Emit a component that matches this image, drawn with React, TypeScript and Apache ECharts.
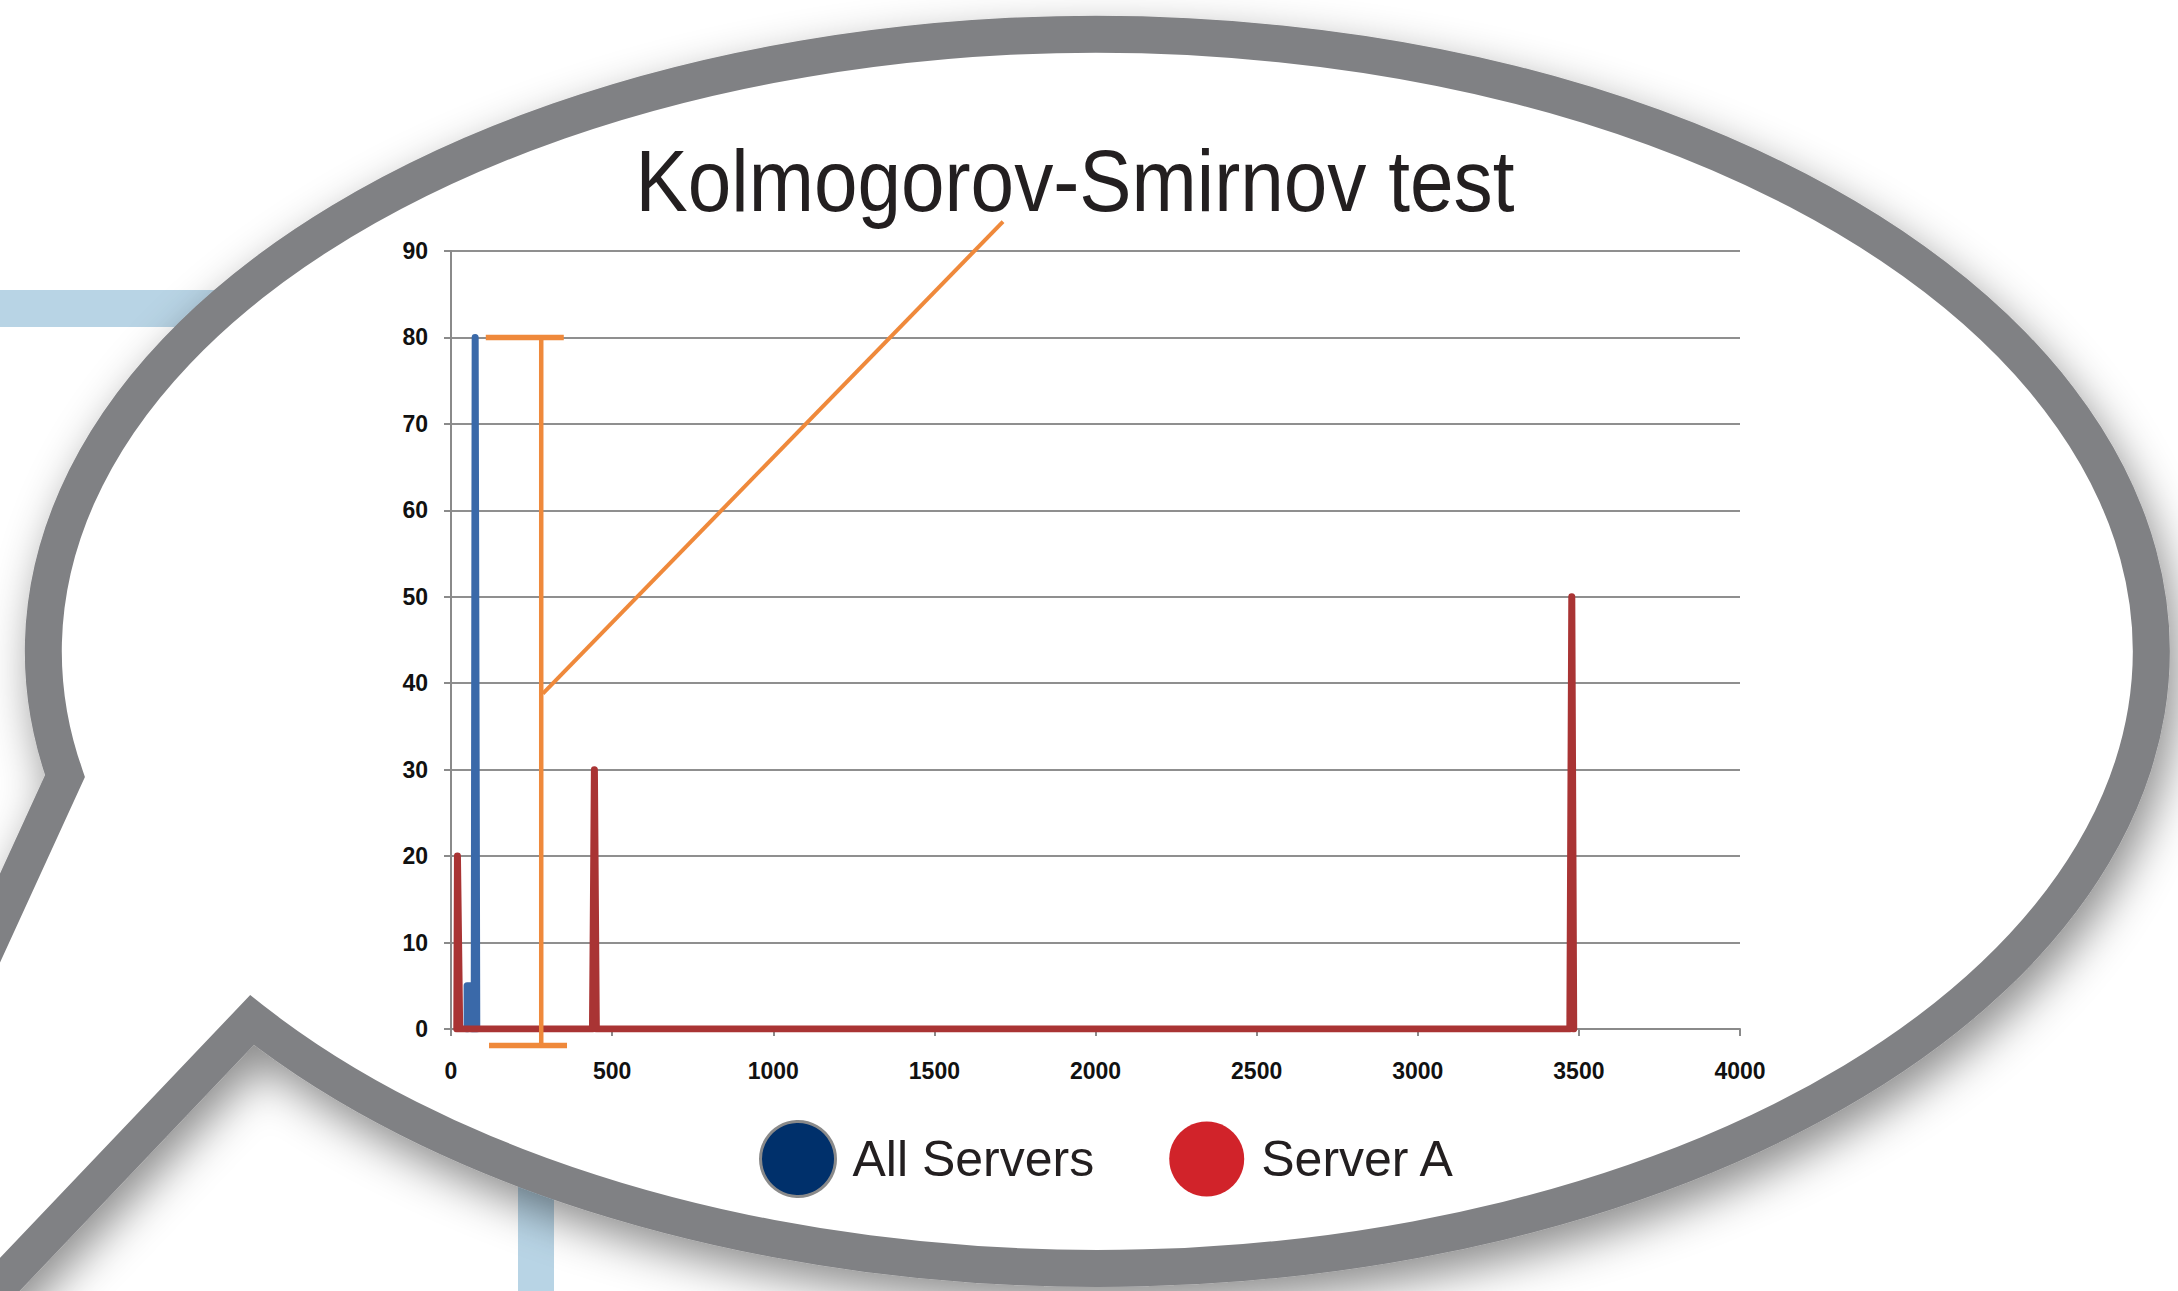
import React, { useEffect, useRef } from "react";
import * as echarts from "echarts";

// ---- data ----
const TITLE = "Kolmogorov-Smirnov test";
const SERIES_NAMES = ["All Servers", "Server A"];

const X_MIN = 0;
const X_MAX = 4000;
const X_INTERVAL = 500;
const Y_MIN = 0;
const Y_MAX = 90;
const Y_INTERVAL = 10;

// All Servers (blue) polyline
const allServersX = [50, 50, 66, 66, 72, 75, 80];
const allServersY = [0, 5, 5, 0, 0, 80, 0];

// Server A (red) polyline
const serverAX = [18, 20, 27, 439, 445, 451, 3472, 3478, 3484];
const serverAY = [0, 20, 0, 0, 30, 0, 0, 50, 0];

// K-S distance annotation (orange), in data units
const ksBarX = [280, 280];
const ksBarY = [80, -1.9];
const ksTopCapX = [108, 350];
const ksTopCapY = [80, 80];
const ksBottomCapX = [118, 360];
const ksBottomCapY = [-1.9, -1.9];
const ksPointerX = [285, 1713];
const ksPointerY = [38.8, 93.4];

// ---- decoration ----
const BUBBLE_PATH = "M 65 776 A 1054 617 0 1 1 252 1020 L -323 1624 Z";

const pairs = (xs: number[], ys: number[]) => xs.map((x, i) => [x, ys[i]]);

const ORANGE = "#EF893B";

function orangeSeries(name: string, xs: number[], ys: number[], width: number) {
  return {
    name,
    type: "line",
    data: pairs(xs, ys),
    symbol: "none",
    showSymbol: false,
    clip: false,
    silent: true,
    z: 6,
    lineStyle: { color: ORANGE, width, cap: "butt" },
    emphasis: { disabled: true },
  };
}

export default function App() {
  const ref = useRef<HTMLDivElement>(null);

  useEffect(() => {
    document.body.style.margin = "0";
    echarts.graphic.registerShape("bubble", echarts.graphic.extendPath(BUBBLE_PATH, {}));
    const chart = echarts.init(ref.current!, null, { renderer: "svg" });

    const axisLabelStyle = {
      fontSize: 23,
      fontWeight: "bold",
      color: "#111",
      fontFamily: "Liberation Sans",
      formatter: (v: number) => String(v),
    };

    chart.setOption({
      animation: false,
      backgroundColor: "#ffffff",
      grid: { left: 451, right: 438, top: 251, bottom: 262, containLabel: false },
      xAxis: {
        type: "value",
        min: X_MIN,
        max: X_MAX,
        interval: X_INTERVAL,
        axisLine: { show: true, lineStyle: { color: "#8a8a8a", width: 2 } },
        axisTick: { show: true, length: 7, lineStyle: { color: "#8a8a8a", width: 2 } },
        splitLine: { show: false },
        axisLabel: { ...axisLabelStyle, margin: 30 },
      },
      yAxis: {
        type: "value",
        min: Y_MIN,
        max: Y_MAX,
        interval: Y_INTERVAL,
        axisLine: { show: true, lineStyle: { color: "#8a8a8a", width: 2 } },
        axisTick: { show: true, length: 7, lineStyle: { color: "#8a8a8a", width: 2 } },
        splitLine: { show: true, lineStyle: { color: "#8f8f8f", width: 2 } },
        axisLabel: { ...axisLabelStyle, margin: 23 },
      },
      legend: {
        data: [
          {
            name: SERIES_NAMES[0],
            itemStyle: { color: "#00306B", borderColor: "#8a8a8a", borderWidth: 3 },
          },
          { name: SERIES_NAMES[1], itemStyle: { color: "#D1232A", borderWidth: 0 } },
        ],
        selectedMode: false,
        icon: "circle",
        left: 754,
        top: 1115,
        itemWidth: 75,
        itemHeight: 75,
        itemGap: 75,
        textStyle: {
          fontSize: 50,
          color: "#231F20",
          fontFamily: "Liberation Sans",
          padding: [0, 0, 0, 12],
        },
      },
      graphic: [
        {
          type: "rect",
          z: -30,
          shape: { x: 0, y: 290, width: 420, height: 37 },
          style: { fill: "#B8D4E5" },
        },
        {
          type: "rect",
          z: -30,
          shape: { x: 518, y: 1100, width: 36, height: 191 },
          style: { fill: "#B8D4E5" },
        },
        {
          type: "bubble",
          z: -20,
          x: 0,
          y: 0,
          style: {
            fill: "#ffffff",
            stroke: "#808184",
            lineWidth: 37,
            lineJoin: "miter",
            shadowColor: "rgba(0,0,0,0.45)",
            shadowBlur: 45,
            shadowOffsetX: 8,
            shadowOffsetY: 18,
          },
          silent: true,
        },
        {
          type: "text",
          z: 10,
          x: 1075,
          y: 181,
          scaleX: 0.9,
          style: {
            text: TITLE,
            font: 'normal 87px "Liberation Sans"',
            fill: "#231F20",
            align: "center",
            verticalAlign: "middle",
          },
        },
      ],
      series: [
        {
          name: SERIES_NAMES[0],
          type: "line",
          data: pairs(allServersX, allServersY),
          symbol: "none",
          showSymbol: false,
          z: 3,
          lineStyle: { color: "#3A69A9", width: 7, cap: "round", join: "round" },
          itemStyle: { color: "#00306B" },
          emphasis: { disabled: true },
        },
        {
          name: SERIES_NAMES[1],
          type: "line",
          data: pairs(serverAX, serverAY),
          symbol: "none",
          showSymbol: false,
          z: 4,
          lineStyle: { color: "#A93434", width: 7, cap: "round", join: "round" },
          itemStyle: { color: "#D1232A" },
          emphasis: { disabled: true },
        },
        orangeSeries("KS distance", ksBarX, ksBarY, 4.5),
        orangeSeries("KS top", ksTopCapX, ksTopCapY, 5.5),
        orangeSeries("KS bottom", ksBottomCapX, ksBottomCapY, 5.5),
        orangeSeries("KS pointer", ksPointerX, ksPointerY, 4),
      ],
    });

    return () => chart.dispose();
  }, []);

  return (
    <div
      ref={ref}
      style={{ position: "absolute", left: 0, top: 0, width: 2178, height: 1291, background: "#fff" }}
    />
  );
}
